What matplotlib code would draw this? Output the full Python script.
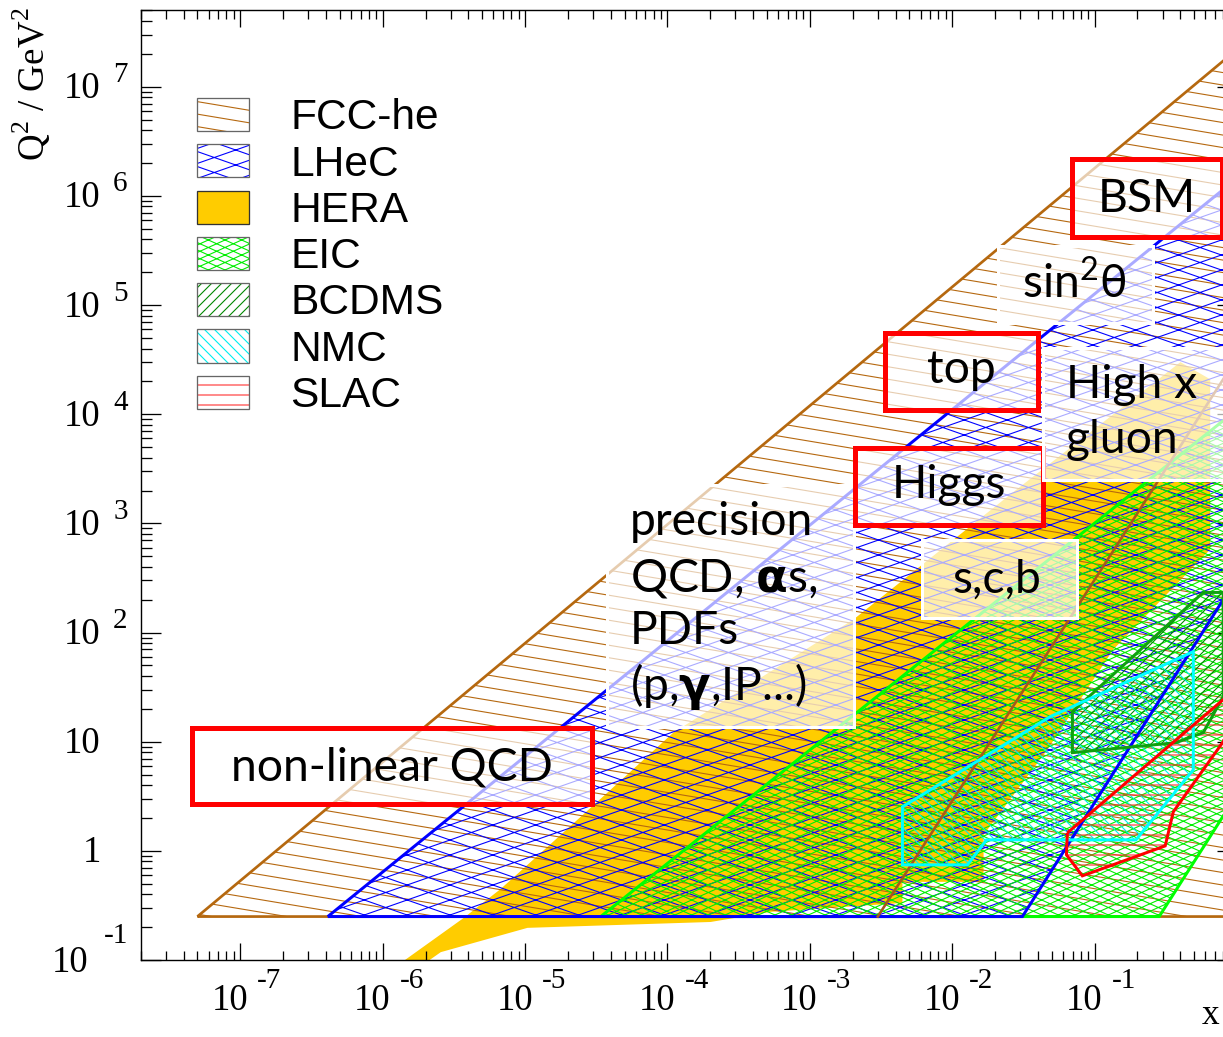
import numpy as np
import matplotlib
matplotlib.use("Agg")
import matplotlib.pyplot as plt
import matplotlib.hatch as mhatch
import matplotlib.transforms as mtransforms
from matplotlib.path import Path
from matplotlib.patches import Polygon, Rectangle, Patch
from matplotlib.ticker import FixedLocator, LogLocator, NullFormatter

# ---------------- data ----------------
fcc_x = [5.0e-8, 1.0, 1.0]
fcc_q2 = [0.25, 0.25, 2.2e7]

lhec_x = [4.12e-7, 0.0311, 0.762, 1.0, 1.0]
lhec_q2 = [0.25, 0.25, 181.0, 316.0, 1.45e6]

eic_x = [3.4e-5, 0.284, 1.0, 1.0]
eic_q2 = [0.25, 0.25, 3.3, 1.1e4]

hera_x = [1.10e-6, 3.71e-6, 6.75e-6, 1.44e-5, 3.99e-5, 1.10e-4, 2.03e-3, 0.0256,
          0.40, 0.648, 0.648, 0.135, 0.0466, 0.0166, 0.0166, 4.47e-3, 4.47e-3,
          5.30e-4, 2.01e-4, 1.04e-5, 2.56e-6, 1.63e-6]
hera_q2 = [0.078, 0.243, 0.448, 1.09, 3.63, 12.1, 132.0, 1845.0,
           3.0e4, 2.09e4, 577.0, 69.8, 8.45, 1.40, 0.52, 0.52, 0.333,
           0.276, 0.223, 0.197, 0.118, 0.078]

bcdms_x = [0.0698, 0.579, 0.80, 0.80, 0.579, 0.3725, 0.0698]
bcdms_q2 = [18.8, 233.0, 233.0, 25.9, 12.1, 9.79, 7.93]

nmc_x = [4.47e-3, 0.049, 0.493, 0.493, 0.195, 0.0174, 0.0128, 4.47e-3]
nmc_q2 = [2.53, 17.0, 66.9, 5.53, 1.26, 1.26, 0.744, 0.744]

slac_x = [0.0643, 0.80, 0.90, 0.90, 0.80, 0.357, 0.313, 0.082, 0.0634]
slac_q2 = [1.46, 24.3, 26.0, 16.0, 10.0, 2.28, 1.11, 0.59, 0.92]

line_x = [3.0e-3, 0.178, 1.0]
line_q2 = [0.25, 980.0, 3.3e4]

legend_labels = ["FCC-he", "LHeC", "HERA", "EIC", "BCDMS", "NMC", "SLAC"]
x_tick_exponents = [-7, -6, -5, -4, -3, -2, -1]
y_tick_values = [0.1, 1, 10, 1e2, 1e3, 1e4, 1e5, 1e6, 1e7]
y_tick_bases = ["10", "1", "10", "10", "10", "10", "10", "10", "10"]
y_tick_exps = ["-1", "", "", "2", "3", "4", "5", "6", "7"]

# ---------------- style ----------------
W, H, DPI = 1223, 1037, 300
PX = 72.0 / DPI          # points per output pixel

BROWN = "#b5680f"
BLUE = "#0000ff"
GOLD = "#ffcc00"
LIME = "#00ee00"
DKGREEN = "#10a010"
CYAN = "#00eeee"
RED = "#ff0000"
CURVE = "#a65a1a"

plt.rcParams["font.family"] = ["Liberation Sans", "DejaVu Sans"]
plt.rcParams["mathtext.fontset"] = "dejavusans"
plt.rcParams["hatch.linewidth"] = 1.1 * PX
SERIF = ["Liberation Serif", "DejaVu Serif"]
BOXFONT = ["Lato", "DejaVu Sans"]


# slanted line hatch families (tile exactly in the 1-inch hatch cell)
class _LineFamily(mhatch.HatchPatternBase):
    key = "-"
    n = 1
    j = 0
    down = True

    def __init__(self, hatch, density):
        on = bool(hatch) and (self.key in hatch)
        self.num_lines = (self.n + self.j) if on else 0
        self.num_vertices = 2 * self.num_lines

    def set_vertices_and_codes(self, vertices, codes):
        c = (np.arange(self.n + self.j) + 0.5) / self.n
        s = self.j / self.n
        y0, y1 = (c, c - s) if self.down else (c - s, c)
        vertices[0::2, 0] = 0.0
        vertices[0::2, 1] = y0
        vertices[1::2, 0] = 1.0
        vertices[1::2, 1] = y1
        codes[0::2] = Path.MOVETO
        codes[1::2] = Path.LINETO


def _fam(key, n, j, down):
    return type("Fam", (_LineFamily,), {"key": key, "n": n, "j": j, "down": down})


mhatch._hatch_types[:] = [
    _fam("o", 24, 4, True),                              # FCC-he
    _fam("O", 20, 7, True), _fam("O", 20, 7, False),     # LHeC
    _fam(".", 40, 18, True), _fam(".", 40, 18, False),   # EIC
    _fam("/", 30, 30, False),                            # BCDMS
    _fam("\\", 30, 30, True),                            # NMC
    _fam("-", 30, 0, True),                              # SLAC
]

fig = plt.figure(figsize=(W / DPI + 1e-4, H / DPI + 1e-4), dpi=DPI)
ax = fig.add_axes([140.7 / W, 1 - 960.0 / H, 1096.3 / W, 949.5 / H])
ax.set_xscale("log")
ax.set_yscale("log")
ax.set_xlim(2e-8, 1.0)
ax.set_ylim(0.1, 5e7)


def region(xs, ys, hatch, hcolor, ecolor, lw_px, zh, ze):
    pts = np.column_stack([xs, ys])
    ax.add_patch(Polygon(pts, closed=True, facecolor="none", edgecolor=hcolor,
                         linewidth=0, hatch=hatch, zorder=zh))
    ax.add_patch(Polygon(pts, closed=True, fill=False, edgecolor=ecolor,
                         linewidth=lw_px * PX, zorder=ze, joinstyle="miter"))


ax.add_patch(Polygon(np.column_stack([hera_x, hera_q2]), closed=True,
                     facecolor=GOLD, edgecolor="none", zorder=1))
region(fcc_x, fcc_q2, "o", BROWN, BROWN, 2.7, 2, 8)
region(lhec_x, lhec_q2, "O", BLUE, BLUE, 3.0, 3, 10)
region(eic_x, eic_q2, ".", LIME, "#00ff00", 3.0, 4, 9)
region(bcdms_x, bcdms_q2, "/", "#008800", DKGREEN, 3.0, 5, 11)
region(nmc_x, nmc_q2, "\\", CYAN, "#00ffff", 3.0, 6, 12)
region(slac_x, slac_q2, "-", "#ff3030", RED, 3.0, 7, 13)
ax.plot(line_x, line_q2, color=CURVE, lw=2.6 * PX, zorder=10.5)

# ---------------- annotation boxes (layout in pixels) ----------------
pxT = mtransforms.Affine2D().scale(1.0 / W, -1.0 / H).translate(0, 1) + fig.transFigure


def box(x0, y0, x1, y1, red):
    ax.add_patch(Rectangle((x0, y0), x1 - x0, y1 - y0, transform=pxT,
                           facecolor=(1, 1, 1, 0.67),
                           edgecolor=RED if red else "white",
                           linewidth=(5.0 if red else 3.0) * PX,
                           zorder=20, clip_on=False))


def label(s, x, y, ha="center"):
    ax.text(x, y, s, transform=pxT, ha=ha, va="baseline", fontsize=11.1,
            family=BOXFONT, zorder=21, clip_on=False)


box(192, 728, 592, 804, True)
label("non-linear QCD", 392, 780)
box(607, 485, 854, 727, False)
label("precision", 630, 535, "left")
label(r"QCD, $\mathbf{\alpha}$s,", 630, 591, "left")
label("PDFs", 630, 644, "left")
label(r"(p,$\mathbf{\gamma}$,IP...)", 630, 700, "left")
box(885, 333, 1038, 410, True)
label("top", 961, 383)
box(855, 448, 1043, 525, True)
label("Higgs", 949, 498)
box(1072, 159, 1222, 237, True)
label("BSM", 1147, 212)
box(998, 246, 1153, 323, False)
label(r"sin$^{\mathregular{2}}$θ", 1074, 298)
box(1043, 348, 1240, 480, False)
label("High x", 1066, 398, "left")
label("gluon", 1066, 453, "left")
box(922, 540, 1077, 618, False)
label("s,c,b", 997, 593)

# ---------------- legend ----------------
legend_hatches = ["o", "O", None, ".", "/", "\\", "-"]
legend_colors = [BROWN, BLUE, GOLD, LIME, "#008800", CYAN, "#ff3030"]
handles = []
for h, c in zip(legend_hatches, legend_colors):
    if h is None:
        handles.append(Patch(facecolor=c, edgecolor="#333333", linewidth=1.3 * PX))
    else:
        handles.append((Patch(facecolor="white", edgecolor=c, linewidth=0, hatch=h),
                        Patch(facecolor="none", edgecolor="#666666", linewidth=1.3 * PX)))
LFS = 10.2
EM = LFS / PX
leg = ax.legend(handles, legend_labels, loc="upper left",
                bbox_to_anchor=((197 - 140.7) / 1096.3, (960 - 98) / 949.5),
                borderaxespad=0, borderpad=0, frameon=False, fontsize=LFS,
                handlelength=52 / EM, handleheight=35 / EM,
                handletextpad=41 / EM, labelspacing=0.14)
leg.set_zorder(30)

# ---------------- axes, ticks, tick labels ----------------
ax.xaxis.set_major_locator(FixedLocator([10.0 ** e for e in x_tick_exponents]))
ax.yaxis.set_major_locator(FixedLocator(y_tick_values))
for a in (ax.xaxis, ax.yaxis):
    a.set_minor_locator(LogLocator(base=10, subs=np.arange(2, 10), numticks=60))
    a.set_major_formatter(NullFormatter())
    a.set_minor_formatter(NullFormatter())
ax.tick_params(which="both", direction="in", top=True, right=True,
               width=1.3 * PX, color="black")
ax.tick_params(axis="x", which="major", length=17 * PX)
ax.tick_params(axis="x", which="minor", length=9 * PX)
ax.tick_params(axis="y", which="major", length=20 * PX)
ax.tick_params(axis="y", which="minor", length=11 * PX)
for sp in ax.spines.values():
    sp.set_linewidth(1.4 * PX)
    sp.set_zorder(40)

TFS = 8.8
EFS = 7.0
bt = mtransforms.blended_transform_factory(ax.transData, ax.transAxes)
for e in x_tick_exponents:
    t1 = mtransforms.offset_copy(bt, fig=fig, x=8 * PX, y=-50 * PX, units="points")
    ax.text(10.0 ** e, 0, "10", transform=t1, ha="right", va="baseline",
            fontsize=TFS, family=SERIF)
    t2 = mtransforms.offset_copy(bt, fig=fig, x=17 * PX, y=-28 * PX, units="points")
    ax.text(10.0 ** e, 0, str(e), transform=t2, ha="left", va="baseline",
            fontsize=EFS, family=SERIF)

lt = mtransforms.blended_transform_factory(ax.transAxes, ax.transData)
for v, b, e in zip(y_tick_values, y_tick_bases, y_tick_exps):
    neg = e.startswith("-")
    tb = mtransforms.offset_copy(lt, fig=fig, x=(-52.7 if neg else -40.0) * PX,
                                 y=-11.5 * PX, units="points")
    ax.text(0, v, b, transform=tb, ha="right", va="baseline", fontsize=TFS, family=SERIF)
    if e:
        te = mtransforms.offset_copy(lt, fig=fig, x=(-36.5 if neg else -27.5) * PX,
                                     y=(17 if neg else 4.5) * PX, units="points")
        ax.text(0, v, e, transform=te, ha="left", va="baseline", fontsize=EFS, family=SERIF)

fig.text(32 / W, 1 - 84 / H, r"Q$^{\mathregular{2}}$ / GeV$^{\mathregular{2}}$",
         rotation=90, ha="center", va="center", fontsize=8.9, family=SERIF)
fig.text(1211 / W, 1 - 1024 / H, "x", ha="center", va="baseline", fontsize=8.5, family=SERIF)

fig.savefig("out.png", dpi=DPI)
